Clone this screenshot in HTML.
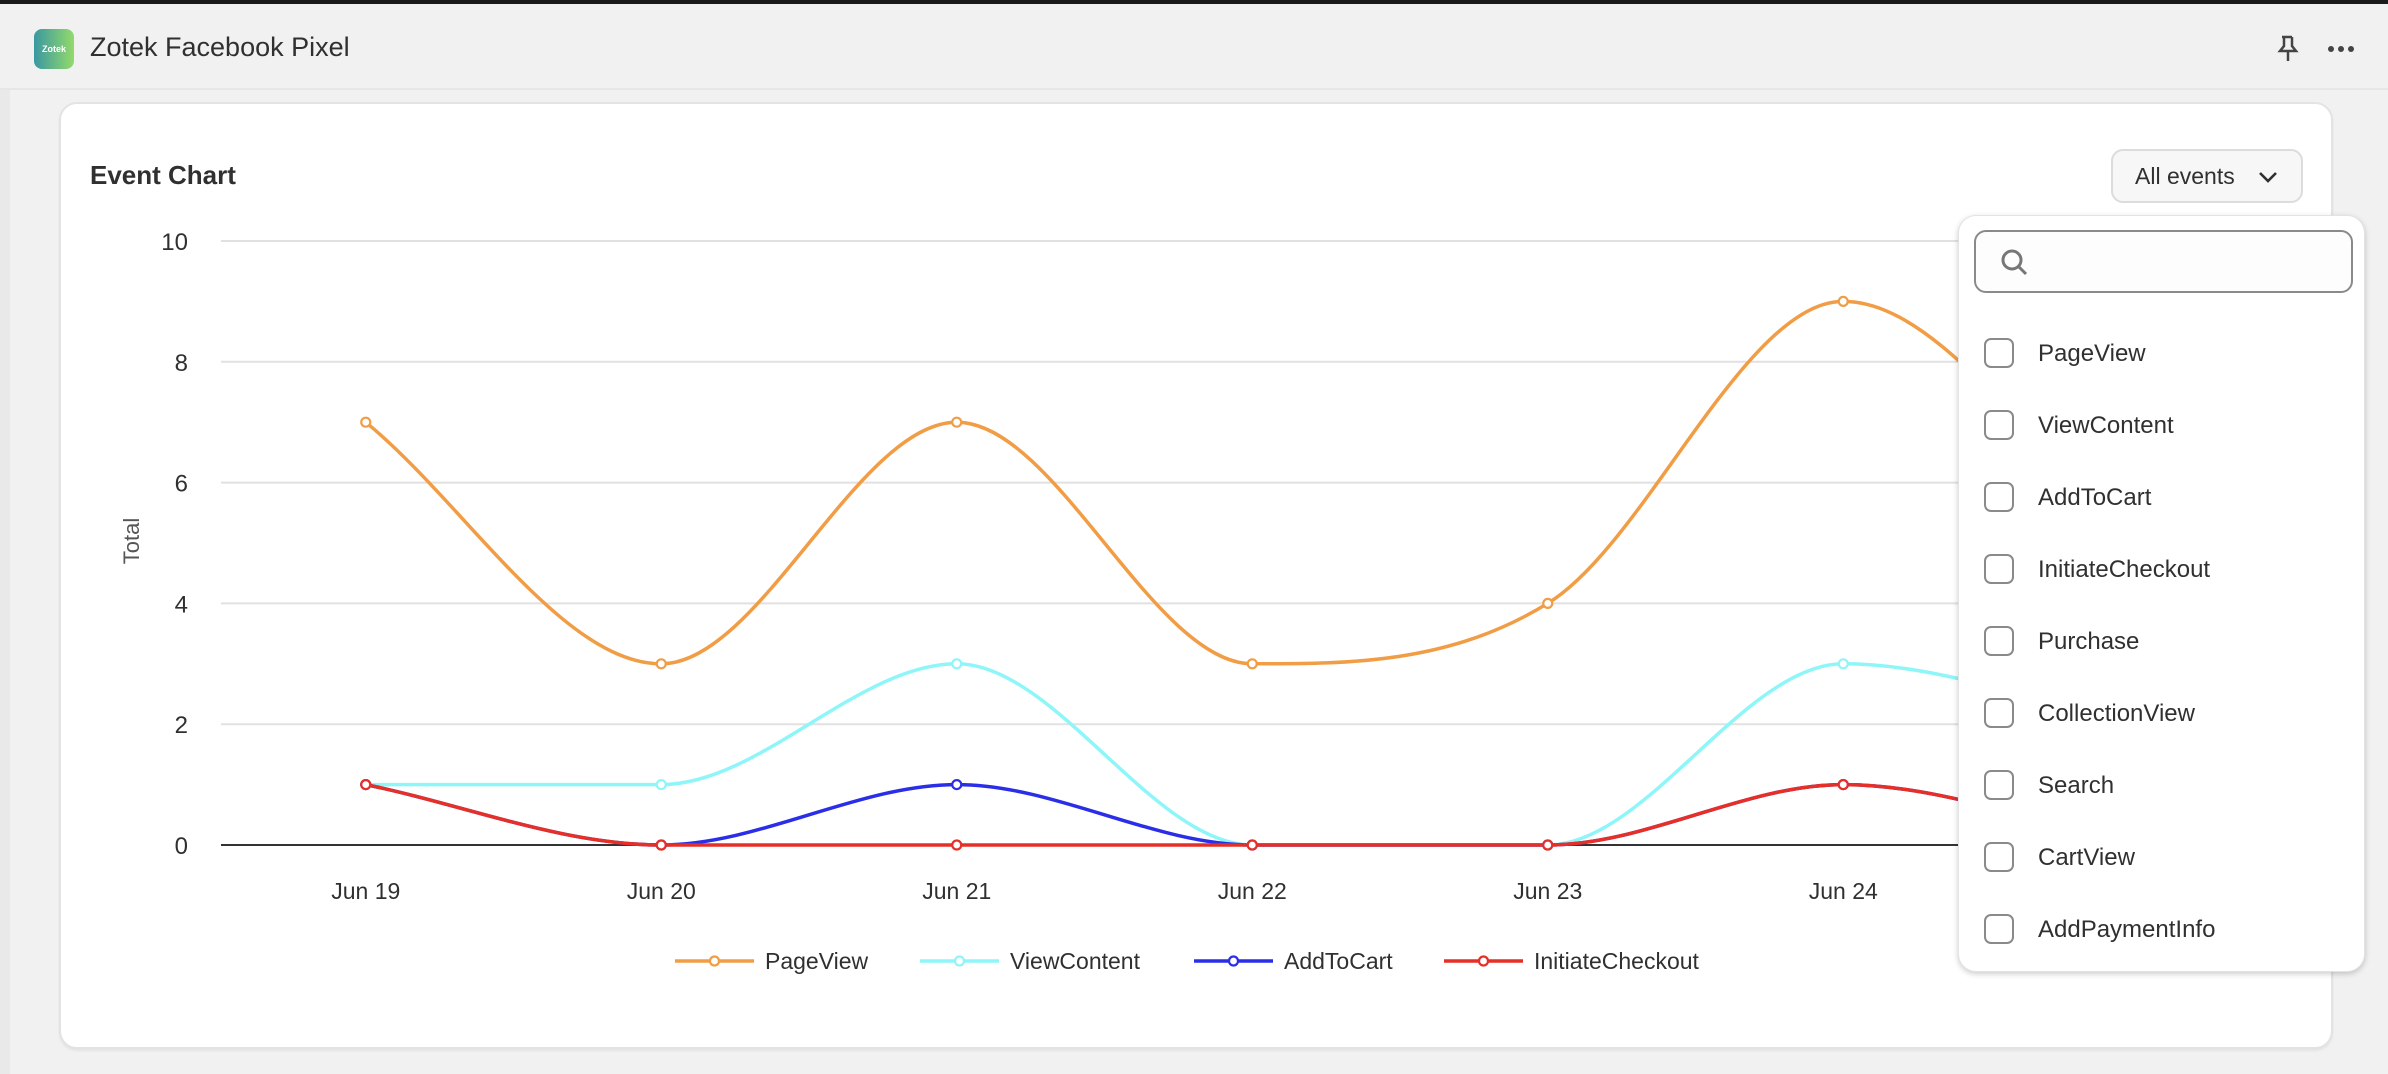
<!DOCTYPE html>
<html><head><meta charset="utf-8">
<style>
html,body{margin:0;padding:0;width:2388px;height:1074px;overflow:hidden;background:#f1f1f1;font-family:"Liberation Sans",sans-serif;color:#303030;}
.topbar{position:absolute;left:0;top:0;width:2388px;height:4px;background:#1a1a1a;}
.header{position:absolute;left:0;top:4px;width:2388px;height:84px;background:#f1f1f1;border-bottom:2px solid #e6e6e6;}
.icon{position:absolute;left:34px;top:25px;width:40px;height:40px;border-radius:8px;background:linear-gradient(90deg,#3a98a0,#93da6c);color:#fff;font-size:9px;font-weight:bold;display:flex;align-items:center;justify-content:center;}
.title{position:absolute;left:90px;top:28px;font-size:27px;color:#303030;}
.hicons{position:absolute;right:30px;top:30px;font-size:28px;color:#444;}
.leftstrip{position:absolute;left:0;top:90px;width:10px;height:984px;background:#e9e9e9;}
.card{position:absolute;left:59px;top:102px;width:2274px;height:947px;background:#fff;border:2px solid #e3e3e3;border-radius:18px;box-sizing:border-box;box-shadow:0 2px 2px rgba(0,0,0,0.06);}
.ctitle{position:absolute;left:90px;top:160px;font-size:26px;font-weight:bold;color:#303030;}
.btn{position:absolute;left:2111px;top:149px;width:192px;height:54px;box-sizing:border-box;border:2px solid #dcdcdc;border-radius:12px;background:#f7f7f7;font-size:23px;color:#303030;line-height:50px;padding-left:22px;}
.drop{position:absolute;left:1958px;top:215px;width:407px;height:757px;background:#fff;border-radius:18px;box-shadow:0 2px 6px rgba(0,0,0,0.2);border:1px solid #e3e3e3;box-sizing:border-box;}
.search{position:absolute;left:15px;top:14px;width:379px;height:63px;border:2px solid #8a8a8a;border-radius:12px;box-sizing:border-box;background:#fdfdfd;}
.item{position:absolute;left:25px;height:40px;font-size:24px;color:#303030;line-height:40px;}
.cb{display:inline-block;width:30px;height:30px;border:2px solid #8a8a8a;border-radius:7px;box-sizing:border-box;vertical-align:middle;margin-right:24px;margin-top:-4px;}
svg text{font-family:"Liberation Sans",sans-serif;}
</style></head><body>
<div class="topbar"></div>
<div class="header">
 <div class="icon">Zotek</div>
 <div class="title">Zotek Facebook Pixel</div>
 <div class="hicons"><svg width="90" height="30" viewBox="0 0 90 30"><g fill="none" stroke="#444" stroke-width="2.5"><path d="M14 3h10M16 3v9l-4 5h16l-4-5V3M20 17v10"/></g><circle cx="63" cy="15" r="3" fill="#444"/><circle cx="73" cy="15" r="3" fill="#444"/><circle cx="83" cy="15" r="3" fill="#444"/></svg></div>
</div>
<div class="leftstrip"></div>
<div class="card"></div>
<div class="ctitle">Event Chart</div>
<div class="btn">All events <svg width="22" height="14" style="margin-left:16px" viewBox="0 0 22 14"><path d="M3 3l8 8 8-8" fill="none" stroke="#303030" stroke-width="2.6"/></svg></div>
<svg id="chart" width="2388" height="1074" style="position:absolute;left:0;top:0"></svg>
<div class="drop">
 <div class="search"><svg width="40" height="40" style="position:absolute;left:20px;top:10px" viewBox="0 0 40 40"><circle cx="16" cy="18" r="9" fill="none" stroke="#777" stroke-width="3"/><path d="M23 25l7 7" stroke="#777" stroke-width="3"/></svg></div>
 <div class="item" style="top:118px"><span class="cb"></span>PageView</div>
 <div class="item" style="top:190px"><span class="cb"></span>ViewContent</div>
 <div class="item" style="top:262px"><span class="cb"></span>AddToCart</div>
 <div class="item" style="top:334px"><span class="cb"></span>InitiateCheckout</div>
 <div class="item" style="top:406px"><span class="cb"></span>Purchase</div>
 <div class="item" style="top:478px"><span class="cb"></span>CollectionView</div>
 <div class="item" style="top:550px"><span class="cb"></span>Search</div>
 <div class="item" style="top:622px"><span class="cb"></span>CartView</div>
 <div class="item" style="top:694px"><span class="cb"></span>AddPaymentInfo</div>
</div>
<script>
var svg=document.getElementById('chart'),ns='http://www.w3.org/2000/svg';
function el(t,a,txt){var e=document.createElementNS(ns,t);for(var k in a)e.setAttribute(k,a[k]);if(txt!=null)e.textContent=txt;svg.appendChild(e);return e;}
var x0=218,dx=295.5,y0=845,sy=60.4,xr=2290;
function X(i){return x0+dx/2+i*dx;}function Y(v){return y0-v*sy;}
for(var v=2;v<=10;v+=2){el('line',{x1:221,x2:xr,y1:Y(v),y2:Y(v),stroke:'#e1e1e1','stroke-width':2});
 el('text',{x:188,y:Y(v)+9,'text-anchor':'end','font-size':24,fill:'#303030'},v);}
el('text',{x:188,y:Y(0)+9,'text-anchor':'end','font-size':24,fill:'#303030'},0);
el('text',{x:0,y:0,'font-size':22,fill:'#555','text-anchor':'middle',transform:'translate(139,541) rotate(-90)'},'Total');
var labs=['Jun 19','Jun 20','Jun 21','Jun 22','Jun 23','Jun 24','Jun 25'];
labs.forEach(function(l,i){el('text',{x:X(i),y:899,'text-anchor':'middle','font-size':23,fill:'#303030'},l);});
function mono(ys){var n=ys.length,xs=ys.map(function(_,i){return X(i);}),py=ys.map(Y);
 var d=[],m=[];for(var i=0;i<n-1;i++)d.push((py[i+1]-py[i])/dx);
 m[0]=d[0];m[n-1]=d[n-2];
 for(i=1;i<n-1;i++){m[i]=(d[i-1]*d[i]<=0)?0:(d[i-1]+d[i])/2;}
 for(i=0;i<n-1;i++){if(d[i]==0){m[i]=0;m[i+1]=0;continue;}var a=m[i]/d[i],b=m[i+1]/d[i],s=a*a+b*b;if(s>9){var t=3/Math.sqrt(s);m[i]=t*a*d[i];m[i+1]=t*b*d[i];}}
 var p='M'+xs[0]+','+py[0];
 for(i=0;i<n-1;i++){var h=dx/3;p+=' C'+(xs[i]+h)+','+(py[i]+m[i]*h)+' '+(xs[i+1]-h)+','+(py[i+1]-m[i+1]*h)+' '+xs[i+1]+','+py[i+1];}
 return p;}
el('line',{x1:221,x2:xr,y1:y0,y2:y0,stroke:'#333','stroke-width':2});
var series=[
 {c:'#f19d45',d:[7,3,7,3,4,9,5]},
 {c:'#8ef6f8',d:[1,1,3,0,0,3,2]},
 {c:'#2a2ee6',d:[1,0,1,0,0,1,0]},
 {c:'#e52f27',d:[1,0,0,0,0,1,0]}];
series.forEach(function(s){el('path',{d:mono(s.d),fill:'none',stroke:s.c,'stroke-width':3.5});});
series.forEach(function(s){s.d.forEach(function(v,i){el('circle',{cx:X(i),cy:Y(v),r:4.5,fill:'#fff',stroke:s.c,'stroke-width':2.2});});});
var leg=[['PageView',675],['ViewContent',920],['AddToCart',1194],['InitiateCheckout',1444]];
leg.forEach(function(l,i){var c=series[i].c;el('line',{x1:l[1],x2:l[1]+79,y1:961,y2:961,stroke:c,'stroke-width':3.5});
 el('circle',{cx:l[1]+39.5,cy:961,r:4.5,fill:'#fff',stroke:c,'stroke-width':2.2});
 el('text',{x:l[1]+90,y:969,'font-size':23,fill:'#303030'},l[0]);});
</script>
</body></html>
